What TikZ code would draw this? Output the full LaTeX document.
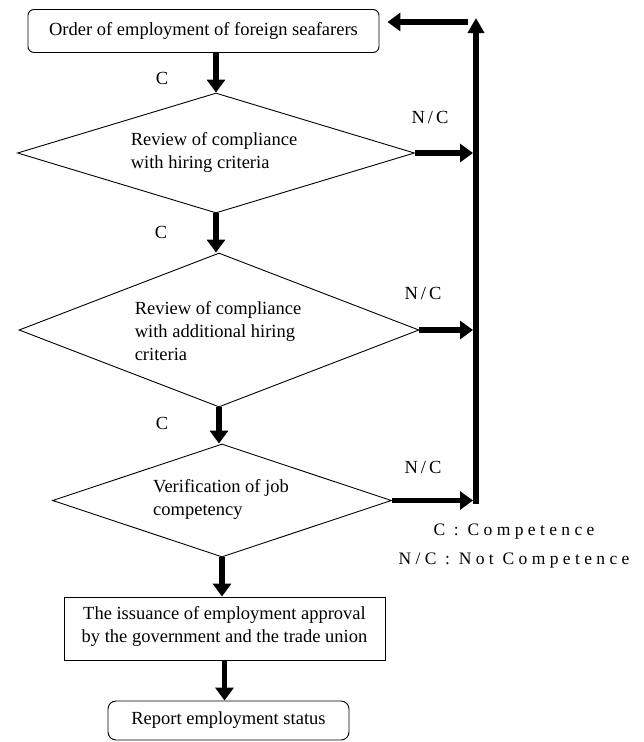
\documentclass[tikz,border=0pt]{standalone}
\usepackage{fontspec}
\setmainfont{Liberation Serif}
\usetikzlibrary{arrows.meta,shapes.geometric}
\begin{document}
\begin{tikzpicture}[x=1pt,y=-1pt,
  every node/.style={font=\fontsize{18.5}{23}\selectfont, inner sep=0pt},
  boxr/.style={draw, line width=0.9pt, rounded corners=6pt},
  boxs/.style={draw, line width=0.9pt},
  dia/.style={draw, diamond, line width=0.9pt},
  flow/.style={line width=5.5pt, -{Triangle[length=13pt 0 0,width=18pt 0 0]}},
  upflow/.style={line width=5.5pt, -{Triangle[length=15pt 0 0,width=16pt 0 0]}},
  legend/.style={font=\fontsize{17.5}{21}\selectfont\addfontfeature{LetterSpace=25}}
]
\useasboundingbox (0,0) rectangle (644,742);

% nodes
\node[boxr, minimum width=351pt, minimum height=43pt] (start) at (203.5,31) {Order of employment of foreign seafarers};
\node[dia, minimum width=397pt, minimum height=120pt] (d1) at (216,153) {};
\node[align=left] (t1) at (214,152) {Review of compliance\\with hiring criteria};
\node[dia, minimum width=400pt, minimum height=154pt] (d2) at (219,330) {};
\node[align=left] (t2) at (218,331) {Review of compliance\\with additional hiring\\criteria};
\node[dia, minimum width=339pt, minimum height=113pt] (d3) at (222,500.5) {};
\node[align=left] (t3) at (221,499.5) {Verification of job\\competency};
\node[boxs, minimum width=321pt, minimum height=63pt] (b4) at (224.5,628.5) {};
\node[align=center] (t4) at (224.5,626) {The issuance of employment approval\\by the government and the trade union};
\node[boxr, rounded corners=8pt, minimum width=241pt, minimum height=39pt] (b5) at (228.5,720.5) {Report employment status};

% labels
\node (c1) at (162,78) {C};
\node (c2) at (161,232) {C};
\node (c3) at (162,423) {C};
\node (nc1) at (430,117) {N\,/\,C};
\node (nc2) at (423,293) {N\,/\,C};
\node (nc3) at (423,467) {N\,/\,C};
\node[legend] (leg1) at (514,532) {C : Competence};
\node[legend] (leg2) at (514,561) {N/C : Not Competence};

% return line
\coordinate (vbot) at (476,504);
\coordinate (vtop) at (476,18);
\coordinate (ret) at (468,22);

% connectors
\draw[flow] (start.south -| d1.north) -- (d1.north);
\draw[flow] (d1.south) -- (d1.south |- d2.north);
\draw[flow] (d2.south) -- (d2.south |- d3.north);
\draw[flow] (d3.south) -- (d3.south |- b4.north);
\draw[flow] (b4.south) -- (b4.south |- b5.north);
\draw[flow, shorten >=3pt] (d1.east) -- (d1.east -| vtop);
\draw[flow, shorten >=3pt] (d2.east) -- (d2.east -| vtop);
\draw[flow, shorten >=3pt] (d3.east) -- (d3.east -| vtop);
\draw[upflow] (vbot) -- (vtop);
\draw[flow, shorten >=8pt] (ret) -- (start.east |- ret);
\end{tikzpicture}
\end{document}
